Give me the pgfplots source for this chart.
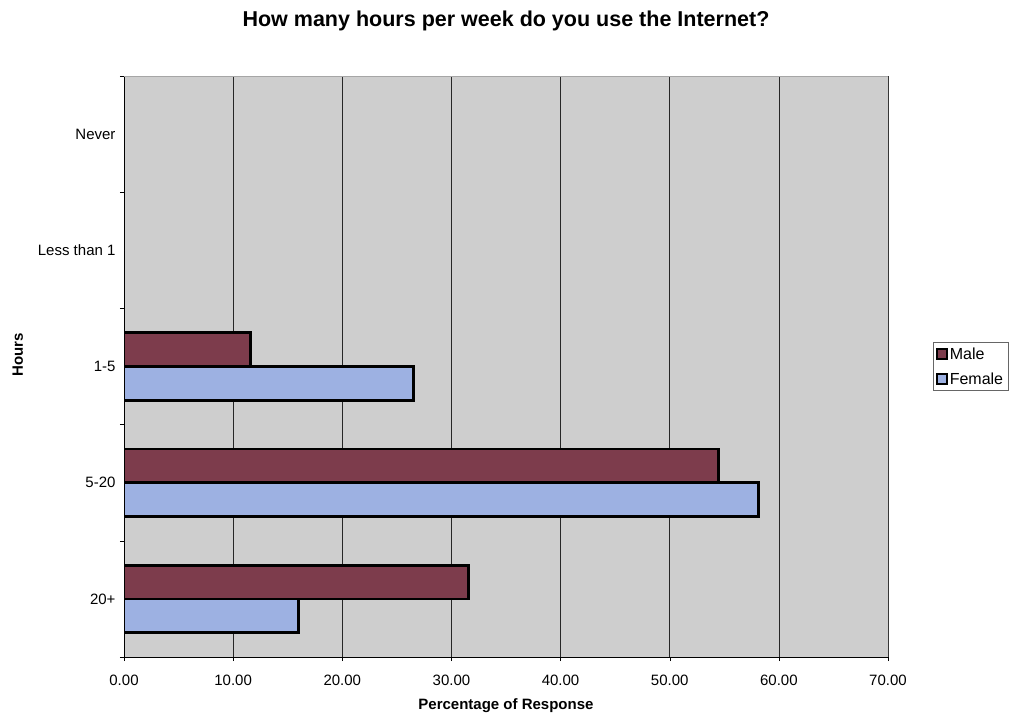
\documentclass[border=0pt]{standalone}
\usepackage{pgfplots}
\pgfplotsset{compat=1.18}
\usepackage{fontspec}
\setmainfont{Liberation Sans}
\definecolor{bggray}{RGB}{206,206,206}
\definecolor{male}{RGB}{125,60,76}
\definecolor{female}{RGB}{157,177,226}
\begin{document}
\begin{tikzpicture}[x=1pt,y=1pt]
\path[use as bounding box] (0,0) rectangle (1014,718);
\begin{axis}[
  at={(124pt,61pt)}, anchor=south west,
  scale only axis, width=764pt, height=581pt,
  xbar, y dir=reverse,
  xmin=0, xmax=70, ymin=-0.5, ymax=4.5,
  xtick={0,10,...,70},
  xticklabel style={/pgf/number format/fixed, /pgf/number format/fixed zerofill, /pgf/number format/precision=2, /pgf/number format/assume math mode=true, font=\fontsize{15}{17}\selectfont, yshift=-10pt},
  ytick={-0.5,0.5,...,4.5}, yticklabels={},
  extra y ticks={0,1,2,3,4},
  extra y tick labels={Never,Less than 1,1-5,5-20,20+},
  extra y tick style={major tick length=0pt, yticklabel style={font=\fontsize{15}{17}\selectfont, xshift=-5pt}},
  tick align=outside, major tick length=4pt,
  tick style={black, thin},
  xmajorgrids, grid style={black!85, line width=0.7pt},
  axis background/.style={fill=bggray},
  axis x line*=bottom, axis y line*=left,
  axis line style={black, line width=1pt},
  title={How many hours per week do you use the Internet?},
  title style={at={(0.5,1.085)}, anchor=center, font=\bfseries\fontsize{21.5}{24}\selectfont},
  xlabel={Percentage of Response},
  xlabel style={at={(0.5,-0.084)}, anchor=center, font=\bfseries\fontsize{15}{17}\selectfont},
  ylabel={Hours},
  ylabel style={at={(-0.139,0.52)}, anchor=center, font=\bfseries\fontsize{15}{17}\selectfont},
  bar width=0.29,
  legend style={at={(1.059,0.5)}, anchor=west, draw=black!60, fill=white,
    font=\fontsize{16}{18}\selectfont, inner sep=3pt, row sep=8pt, cells={anchor=west}},
  legend image code/.code={\draw[#1, line width=1.5pt] (0pt,-5pt) rectangle (10pt,5pt);},
]
\draw[gray!70, line width=1pt] (axis description cs:0,1) -- (axis description cs:1,1) -- (axis description cs:1,0);
\addplot[fill=male, draw=black, line width=2.8pt, bar shift=-0.145] coordinates {
(0,0) (0,1) (11.6,2) (54.5,3) (31.6,4)};
\addplot[fill=female, draw=black, line width=2.8pt, bar shift=0.145] coordinates {
(0,0) (0,1) (26.5,2) (58.1,3) (16.0,4)};
\legend{Male,Female}
\end{axis}
\end{tikzpicture}
\end{document}
